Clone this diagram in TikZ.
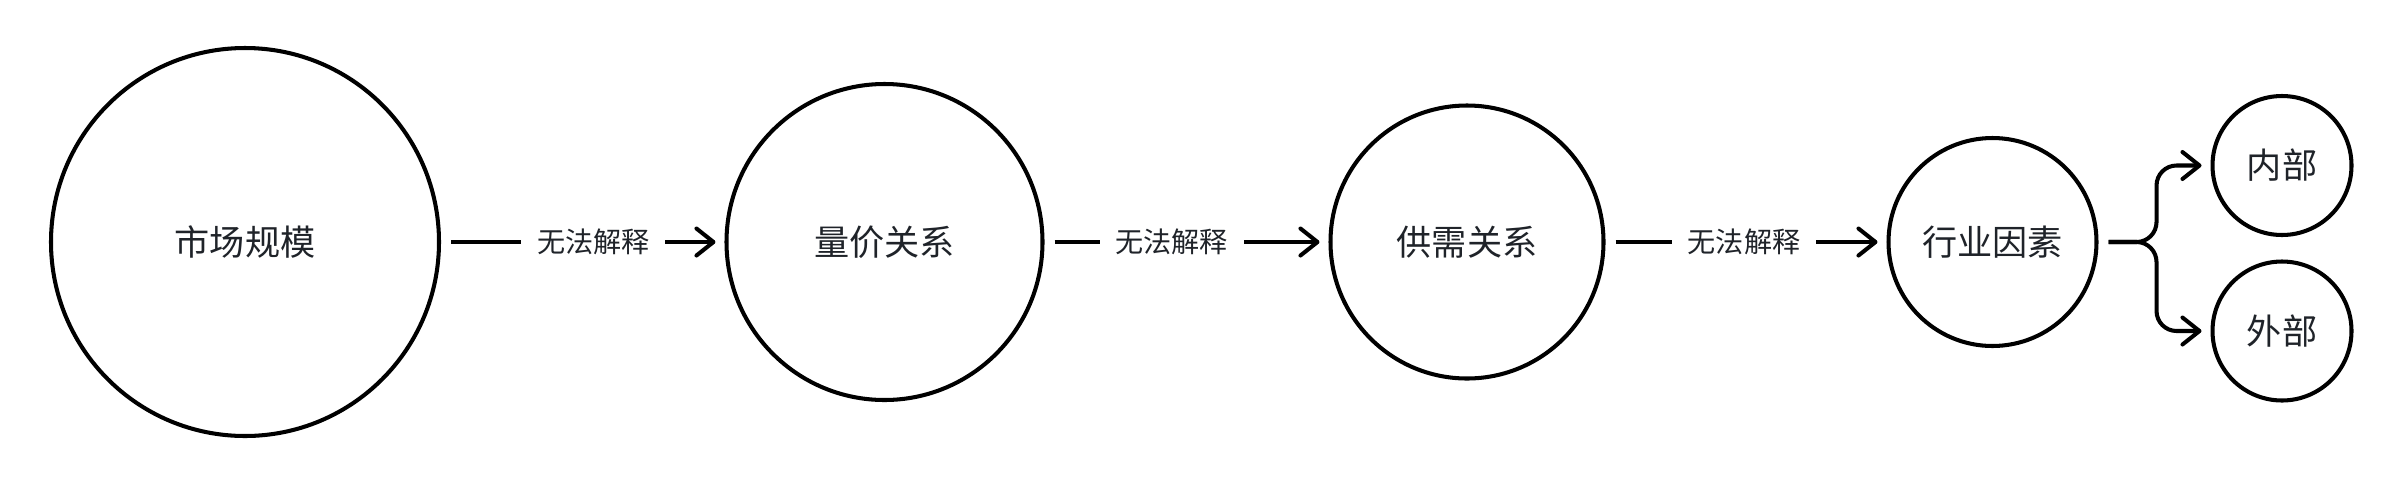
\documentclass[tikz,border=0pt]{standalone}
\usepackage{fontspec}
\newfontfamily\cjk{Noto Sans CJK SC}
\usetikzlibrary{arrows.meta}
\definecolor{inktext}{HTML}{1F2329}

\begin{document}
\begin{tikzpicture}[
		bubble/.style={circle, draw=black, line width=1.15pt, text=inktext, font=\cjk\fontsize{10}{12}\selectfont, inner sep=0pt},
		flow/.style={line width=1.15pt, -{Straight Barb[length=1.7mm, width=2.7mm, line cap=round, line join=round]}, shorten <=1mm, shorten >=0.9mm},
		why/.style={fill=white, text=inktext, font=\cjk\fontsize{8}{10}\selectfont, inner xsep=1.6mm, inner ysep=1mm}]
				% \draw[help lines] (0,0) grid (24,5);
				\useasboundingbox (0,0) rectangle (24.04,4.84);

				\node[bubble, minimum size=3.88cm] (msize) at (2.45,2.42) {市场规模};
				\node[bubble, minimum size=3.16cm] (qprice) at (8.845,2.42) {量价关系};
				\node[bubble, minimum size=2.73cm] (supply) at (14.67,2.42) {供需关系};
				\node[bubble, minimum size=2.08cm] (ind) at (19.925,2.42) {行业因素};
				\node[bubble, minimum size=1.39cm] (inner) at (22.82,3.185) {内部};
				\node[bubble, minimum size=1.39cm] (outer) at (22.82,1.53) {外部};

				\draw[flow] (msize) -- node[why, pos=0.537] {无法解释} (qprice);
				\draw[flow] (qprice) -- node[why, pos=0.448] {无法解释} (supply);
				\draw[flow] (supply) -- node[why, pos=0.493] {无法解释} (ind);

				\draw[flow, rounded corners=2mm] (ind.east) -- ++(0.58,0) |- (inner.west);
				\draw[flow, rounded corners=2mm] (ind.east) -- ++(0.58,0) |- (outer.west);
			\end{tikzpicture}
\end{document}
